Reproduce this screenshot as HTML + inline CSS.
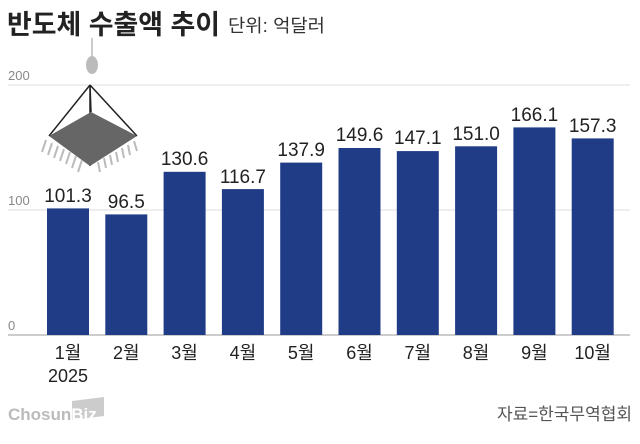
<!DOCTYPE html>
<html><head><meta charset="utf-8"><style>
body{margin:0;background:#fff;}
svg text{font-family:"Liberation Sans","Noto Sans CJK KR",sans-serif;}
</style></head><body>
<svg width="640" height="439" viewBox="0 0 640 439" xmlns="http://www.w3.org/2000/svg">
<rect width="640" height="439" fill="#fff"/>
<text x="7" y="34" font-size="27" font-weight="bold" fill="#222" textLength="213" lengthAdjust="spacingAndGlyphs">반도체 수출액 추이</text>
<text x="228" y="32" font-size="18" fill="#333" textLength="97" lengthAdjust="spacingAndGlyphs">단위: 억달러</text>
<g stroke="#e4e4e4" stroke-width="1.2">
<line x1="8" y1="85" x2="630" y2="85"/>
<line x1="8" y1="210" x2="630" y2="210"/>
</g>
<line x1="8" y1="335" x2="630" y2="335" stroke="#bbb" stroke-width="1.5"/>
<g font-size="13" fill="#888">
<text x="8" y="80">200</text>
<text x="8" y="205">100</text>
<text x="8" y="330">0</text>
</g>
<g>
<line x1="92" y1="38" x2="92" y2="56" stroke="#ccc" stroke-width="2"/>
<ellipse cx="92" cy="65" rx="6" ry="9" fill="#bbb"/>
<line x1="90" y1="85" x2="49" y2="136" stroke="#222" stroke-width="1.5"/>
<line x1="90" y1="85" x2="137" y2="136" stroke="#222" stroke-width="1.5"/>
<line x1="90" y1="85" x2="90" y2="166" stroke="#222" stroke-width="1.5"/>
<line x1="90" y1="85" x2="91" y2="112" stroke="#222" stroke-width="1.5"/>
<polygon points="49,136 91,112 137,136 90,166" fill="#666"/>
<g stroke="#bbb" stroke-width="2">
<line x1="46" y1="140" x2="42" y2="152"/><line x1="52" y1="143" x2="48" y2="155"/><line x1="58" y1="146" x2="54" y2="158"/><line x1="64" y1="149" x2="60" y2="161"/><line x1="70" y1="152" x2="66" y2="164"/><line x1="76" y1="156" x2="72" y2="168"/><line x1="82" y1="160" x2="78" y2="172"/>
<line x1="98" y1="162" x2="100" y2="172"/><line x1="104" y1="158" x2="106" y2="168"/><line x1="110" y1="155" x2="112" y2="165"/><line x1="116" y1="152" x2="118" y2="162"/><line x1="122" y1="148" x2="124" y2="158"/><line x1="128" y1="145" x2="130" y2="155"/><line x1="134" y1="141" x2="137" y2="151"/>
</g>
</g>
<g fill="#203c86">
<rect x="47" y="208.4" width="42" height="126.6"/>
<rect x="105.3" y="214.4" width="42" height="120.6"/>
<rect x="163.6" y="171.8" width="42" height="163.2"/>
<rect x="221.9" y="189.1" width="42" height="145.9"/>
<rect x="280.2" y="162.6" width="42" height="172.4"/>
<rect x="338.5" y="148" width="42" height="187"/>
<rect x="396.8" y="151.1" width="42" height="183.9"/>
<rect x="455.1" y="146.3" width="42" height="188.7"/>
<rect x="513.4" y="127.4" width="42" height="207.6"/>
<rect x="571.7" y="138.4" width="42" height="196.6"/>
</g>
<g font-size="19" fill="#222" text-anchor="middle">
<text x="68" y="202">101.3</text>
<text x="126.3" y="208">96.5</text>
<text x="184.6" y="165">130.6</text>
<text x="242.9" y="183">116.7</text>
<text x="301.2" y="156">137.9</text>
<text x="359.5" y="141">149.6</text>
<text x="417.8" y="144">147.1</text>
<text x="476.1" y="140">151.0</text>
<text x="534.4" y="121">166.1</text>
<text x="592.7" y="132">157.3</text>
</g>
<g font-size="18" fill="#222" text-anchor="middle">
<text x="68" y="359">1월</text>
<text x="126.3" y="359">2월</text>
<text x="184.6" y="359">3월</text>
<text x="242.9" y="359">4월</text>
<text x="301.2" y="359">5월</text>
<text x="359.5" y="359">6월</text>
<text x="417.8" y="359">7월</text>
<text x="476.1" y="359">8월</text>
<text x="534.4" y="359">9월</text>
<text x="592.7" y="359">10월</text>
<text x="68" y="382">2025</text>
</g>
<polygon points="72,420 104,416 104,397 72,401" fill="#ccc"/>
<text x="8" y="420" font-size="17" font-weight="bold" fill="#bbb">Chosun<tspan fill="#fff">Biz</tspan></text>
<text x="632" y="420" font-size="17" fill="#555" text-anchor="end">자료=한국무역협회</text>
</svg>
</body></html>
